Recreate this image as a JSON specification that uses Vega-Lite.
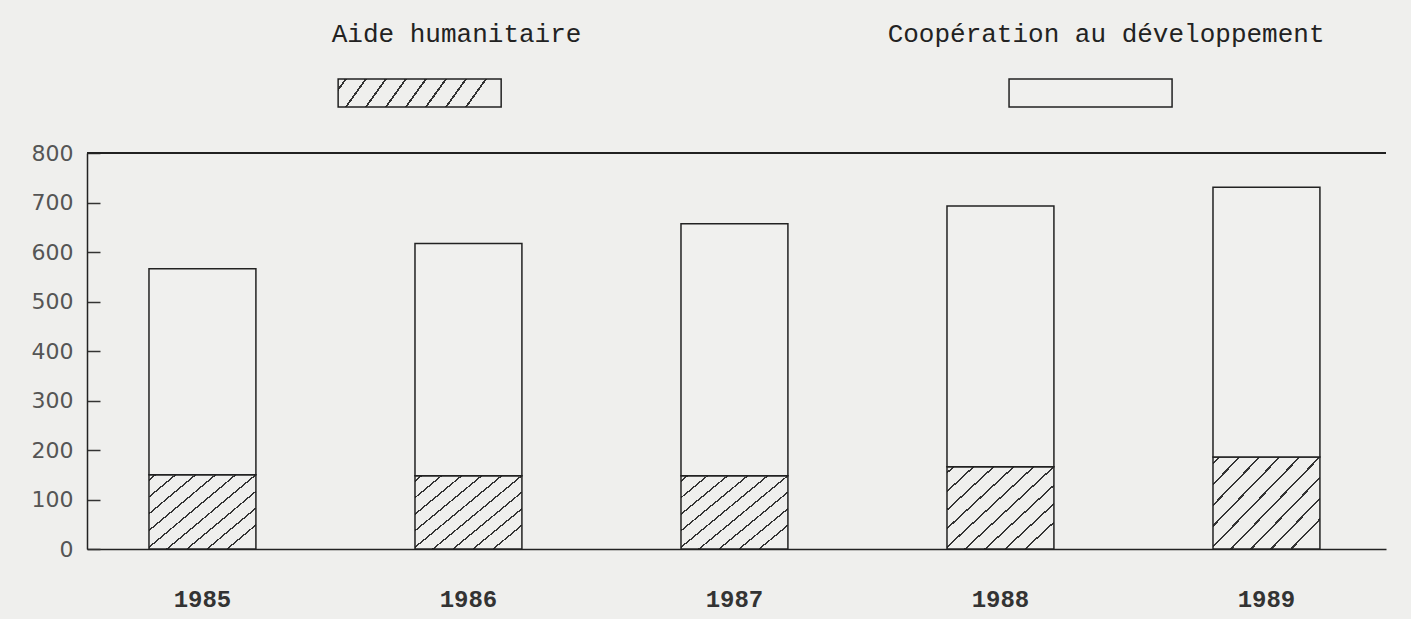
{
  "$schema": "https://vega.github.io/schema/vega-lite/v6.json",
  "background": "#efefed",
  "padding": {"left": 31, "top": 21, "right": 26, "bottom": 8},
  "config": {"view": {"stroke": null}, "font": "Liberation Mono"},
  "datasets": {
    "aid": [
      {"year": "1985", "series": "Aide humanitaire", "value": 150},
      {"year": "1985", "series": "Coopération au développement", "value": 416},
      {"year": "1986", "series": "Aide humanitaire", "value": 148},
      {"year": "1986", "series": "Coopération au développement", "value": 469},
      {"year": "1987", "series": "Aide humanitaire", "value": 148},
      {"year": "1987", "series": "Coopération au développement", "value": 509},
      {"year": "1988", "series": "Aide humanitaire", "value": 166},
      {"year": "1988", "series": "Coopération au développement", "value": 527},
      {"year": "1989", "series": "Aide humanitaire", "value": 186},
      {"year": "1989", "series": "Coopération au développement", "value": 545}
    ],
    "legend": [
      {"series": "Aide humanitaire"},
      {"series": "Coopération au développement"}
    ]
  },
  "spacing": 34,
  "vconcat": [
    {
      "spacing": 31,
      "vconcat": [
        {
          "width": 1299,
          "height": 24,
          "data": {"name": "legend"},
          "mark": {"type": "text", "fontSize": 26, "font": "Liberation Mono", "color": "#222", "baseline": "middle", "align": "center"},
          "encoding": {
            "x": {"field": "series", "type": "nominal", "axis": null,
                  "scale": {"domain": ["Aide humanitaire", "Coopération au développement"], "paddingInner": 0.757, "paddingOuter": 0.332, "align": 0.569}},
            "text": {"field": "series"}
          }
        },
        {
          "width": 1299,
          "height": 28,
          "data": {"name": "legend"},
          "mark": {"type": "bar", "stroke": "#222", "strokeWidth": 1.5},
          "encoding": {
            "x": {"field": "series", "type": "nominal", "axis": null,
                  "scale": {"domain": ["Aide humanitaire", "Coopération au développement"], "paddingInner": 0.757, "paddingOuter": 0.3466, "align": 0.54}},
            "fill": {
              "condition": {
                "test": "datum.series === 'Aide humanitaire'",
                "value": {"gradient": "linear", "x1": 0, "y1": 0, "x2": 1, "y2": 0.123, "stops": [
                  {"offset": 0, "color": "#efefed"},
                  {"offset": 0.04, "color": "#efefed"}, {"offset": 0.04, "color": "#333"}, {"offset": 0.053, "color": "#333"}, {"offset": 0.053, "color": "#efefed"},
                  {"offset": 0.161, "color": "#efefed"}, {"offset": 0.161, "color": "#333"}, {"offset": 0.174, "color": "#333"}, {"offset": 0.174, "color": "#efefed"},
                  {"offset": 0.282, "color": "#efefed"}, {"offset": 0.282, "color": "#333"}, {"offset": 0.295, "color": "#333"}, {"offset": 0.295, "color": "#efefed"},
                  {"offset": 0.403, "color": "#efefed"}, {"offset": 0.403, "color": "#333"}, {"offset": 0.416, "color": "#333"}, {"offset": 0.416, "color": "#efefed"},
                  {"offset": 0.524, "color": "#efefed"}, {"offset": 0.524, "color": "#333"}, {"offset": 0.537, "color": "#333"}, {"offset": 0.537, "color": "#efefed"},
                  {"offset": 0.645, "color": "#efefed"}, {"offset": 0.645, "color": "#333"}, {"offset": 0.658, "color": "#333"}, {"offset": 0.658, "color": "#efefed"},
                  {"offset": 0.766, "color": "#efefed"}, {"offset": 0.766, "color": "#333"}, {"offset": 0.779, "color": "#333"}, {"offset": 0.779, "color": "#efefed"},
                  {"offset": 0.887, "color": "#efefed"}, {"offset": 0.887, "color": "#333"}, {"offset": 0.9, "color": "#333"}, {"offset": 0.9, "color": "#efefed"},
                  {"offset": 1, "color": "#efefed"}
                ]}
              },
              "value": "#f0f0ee"
            }
          }
        }
      ]
    },
    {
      "width": 1299,
      "height": 396,
      "data": {"name": "aid"},
      "layer": [
        {
          "mark": {"type": "bar", "stroke": "#222", "strokeWidth": 1.5},
          "encoding": {
            "x": {"field": "year", "type": "nominal",
                  "scale": {"paddingInner": 0.598, "paddingOuter": 0.2407, "align": 0.484},
                  "axis": {"title": null, "labelAngle": 0, "ticks": false, "labelPadding": 38,
                           "labelFont": "Liberation Mono", "labelFontWeight": "bold", "labelFontSize": 24, "labelColor": "#333",
                           "domainColor": "#222", "domainWidth": 1.5}},
            "y": {"field": "value", "type": "quantitative", "stack": "zero",
                  "scale": {"domain": [0, 800], "nice": false},
                  "axis": {"title": null, "values": [0, 50, 100, 150, 200, 250, 300, 350, 400, 450, 500, 550, 600, 650, 700, 750, 800],
                           "labelExpr": "datum.value % 100 === 0 ? datum.label : ''",
                           "grid": false, "tickColor": "#333", "tickWidth": 1.5,
                           "tickSize": {"condition": {"test": "datum.value % 100 !== 0", "value": -6}, "value": -13},
                           "labelPadding": 27, "labelFont": "DejaVu Sans", "labelFontSize": 22, "labelColor": "#555",
                           "domainColor": "#222", "domainWidth": 1.5}},
            "order": {"field": "series", "sort": "ascending"},
            "fill": {
              "condition": {
                "test": "datum.series === 'Aide humanitaire'",
                "value": {"gradient": "linear", "x1": 0, "y1": 0, "x2": 1, "y2": 0.83, "stops": [
                  {"offset": 0, "color": "#efefed"},
                  {"offset": 0.03, "color": "#efefed"}, {"offset": 0.03, "color": "#333"}, {"offset": 0.042, "color": "#333"}, {"offset": 0.042, "color": "#efefed"},
                  {"offset": 0.141, "color": "#efefed"}, {"offset": 0.141, "color": "#333"}, {"offset": 0.153, "color": "#333"}, {"offset": 0.153, "color": "#efefed"},
                  {"offset": 0.252, "color": "#efefed"}, {"offset": 0.252, "color": "#333"}, {"offset": 0.264, "color": "#333"}, {"offset": 0.264, "color": "#efefed"},
                  {"offset": 0.363, "color": "#efefed"}, {"offset": 0.363, "color": "#333"}, {"offset": 0.375, "color": "#333"}, {"offset": 0.375, "color": "#efefed"},
                  {"offset": 0.474, "color": "#efefed"}, {"offset": 0.474, "color": "#333"}, {"offset": 0.486, "color": "#333"}, {"offset": 0.486, "color": "#efefed"},
                  {"offset": 0.585, "color": "#efefed"}, {"offset": 0.585, "color": "#333"}, {"offset": 0.597, "color": "#333"}, {"offset": 0.597, "color": "#efefed"},
                  {"offset": 0.696, "color": "#efefed"}, {"offset": 0.696, "color": "#333"}, {"offset": 0.708, "color": "#333"}, {"offset": 0.708, "color": "#efefed"},
                  {"offset": 0.807, "color": "#efefed"}, {"offset": 0.807, "color": "#333"}, {"offset": 0.819, "color": "#333"}, {"offset": 0.819, "color": "#efefed"},
                  {"offset": 0.918, "color": "#efefed"}, {"offset": 0.918, "color": "#333"}, {"offset": 0.93, "color": "#333"}, {"offset": 0.93, "color": "#efefed"},
                  {"offset": 1, "color": "#efefed"}
                ]}
              },
              "value": "#f0f0ee"
            }
          }
        },
        {
          "mark": {"type": "rule", "color": "#222", "strokeWidth": 1.5},
          "encoding": {"y": {"datum": 800}}
        }
      ]
    }
  ]
}
